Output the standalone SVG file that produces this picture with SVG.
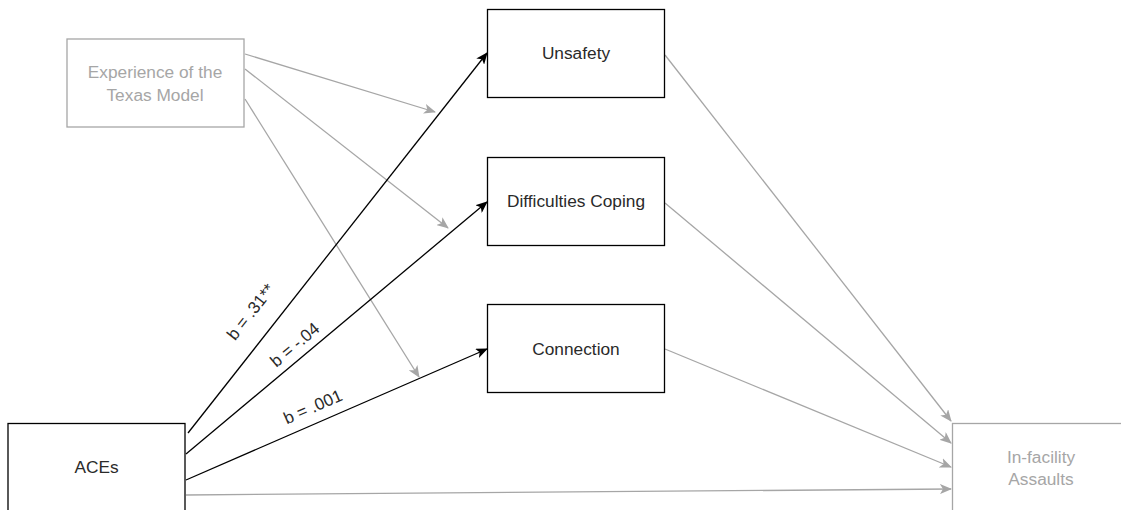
<svg xmlns="http://www.w3.org/2000/svg" width="1121" height="510" viewBox="0 0 1121 510">
  <style>
    .box { fill: #ffffff; stroke: #000000; stroke-width: 1.3; }
    .box-muted { fill: #ffffff; stroke: #a6a6a6; stroke-width: 1.3; }
    .lbl { font-family: "Liberation Sans", Arial, sans-serif; font-size: 17.3px; fill: #2a2a2a; text-anchor: middle; dominant-baseline: central; }
    .lbl-muted { font-family: "Liberation Sans", Arial, sans-serif; font-size: 17.3px; fill: #a6a6a6; text-anchor: middle; dominant-baseline: central; }
    .edge { fill: none; stroke: #000000; stroke-width: 1.3; marker-end: url(#head-dark); }
    .edge-muted { fill: none; stroke: #a6a6a6; stroke-width: 1.3; marker-end: url(#head-muted); }
    .coef { font-family: "Liberation Sans", Arial, sans-serif; font-size: 17px; fill: #2a2a2a; text-anchor: middle; dominant-baseline: central; }
  </style>
  <defs>
    <marker id="head-dark" viewBox="0 0 12 10" refX="11" refY="5" markerWidth="12" markerHeight="10" markerUnits="userSpaceOnUse" orient="auto">
      <path d="M0,0 L12,5 L0,10 L3,5 Z" fill="#000000"/>
    </marker>
    <marker id="head-muted" viewBox="0 0 12 10" refX="11" refY="5" markerWidth="12" markerHeight="10" markerUnits="userSpaceOnUse" orient="auto">
      <path d="M0,0 L12,5 L0,10 L3,5 Z" fill="#a6a6a6"/>
    </marker>
  </defs>

  <!-- connectors -->
  <g id="connectors">
    <!-- Texas Model paths -->
    <path class="edge-muted" d="M245,54 L435,112"/>
    <path class="edge-muted" d="M245,69 L448,228"/>
    <path class="edge-muted" d="M245,99 L419,377"/>
    <!-- ACEs to mediators -->
    <path class="edge" d="M188,433 L487,53"/>
    <path class="edge" d="M186,454 L487,202"/>
    <path class="edge" d="M186,480 L487,349"/>
    <!-- ACEs direct path -->
    <path class="edge-muted" d="M186,495 L951,489"/>
    <!-- mediators to outcome -->
    <path class="edge-muted" d="M665,55 L951,421"/>
    <path class="edge-muted" d="M665,203 L951,443"/>
    <path class="edge-muted" d="M665,349 L951,467"/>
    <!-- path coefficients -->
    <text class="coef" transform="translate(251,312) rotate(-51.8)">b = .31**</text>
    <text class="coef" transform="translate(295,345) rotate(-40)">b = -.04</text>
    <text class="coef" transform="translate(313,407) rotate(-23.5)">b = .001</text>
  </g>

  <g id="node-texas-model">
    <rect class="box-muted" x="67" y="39" width="177" height="88"/>
    <text class="lbl-muted" x="155" y="72">Experience of the</text>
    <text class="lbl-muted" x="155" y="94.5">Texas Model</text>
  </g>

  <g id="node-unsafety">
    <rect class="box" x="487.5" y="9.5" width="177" height="88"/>
    <text class="lbl" x="576" y="53">Unsafety</text>
  </g>

  <g id="node-difficulties-coping">
    <rect class="box" x="487.5" y="157.5" width="177" height="88"/>
    <text class="lbl" x="576" y="201">Difficulties Coping</text>
  </g>

  <g id="node-connection">
    <rect class="box" x="487.5" y="304.5" width="177" height="88"/>
    <text class="lbl" x="576" y="349">Connection</text>
  </g>

  <g id="node-aces">
    <rect class="box" x="8" y="423.5" width="177" height="88"/>
    <text class="lbl" x="96.5" y="467">ACEs</text>
  </g>

  <g id="node-assaults">
    <rect class="box-muted" x="952.5" y="423.5" width="177" height="88"/>
    <text class="lbl-muted" x="1041" y="456.5">In-facility</text>
    <text class="lbl-muted" x="1041" y="478.5">Assaults</text>
  </g>
</svg>
